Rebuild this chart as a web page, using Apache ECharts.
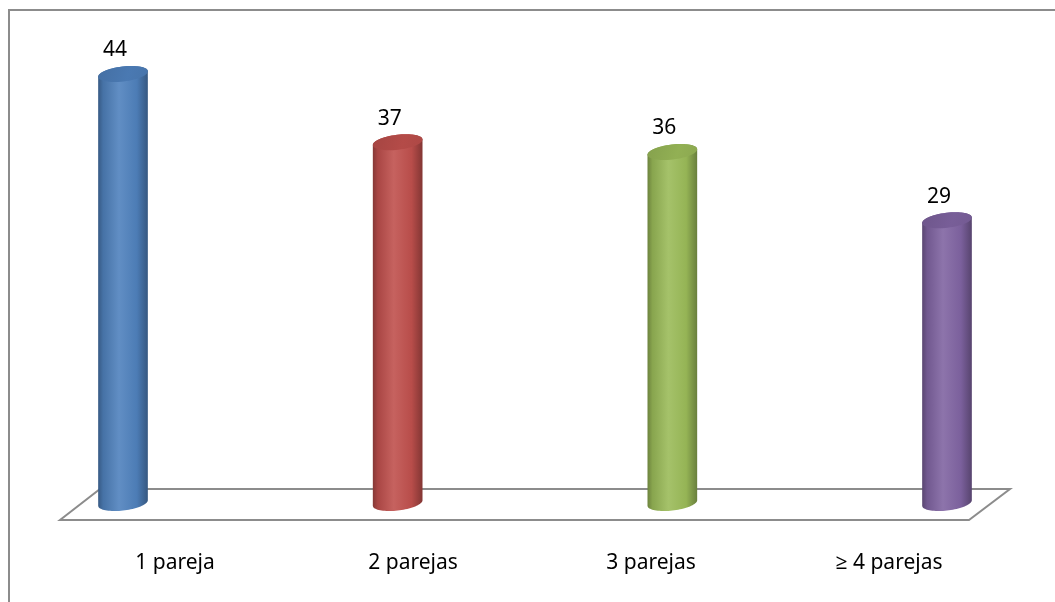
<!DOCTYPE html>
<html>
<head>
<meta charset="utf-8">
<script src="https://cdn.jsdelivr.net/npm/echarts@6/dist/echarts.min.js"></script>
<style>
  html, body { margin: 0; padding: 0; background: #fff; }
  #chart { width: 1055px; height: 602px; }
</style>
</head>
<body>
<div id="chart"></div>
<script>
// Number of partners (parejas) and the count for each group
const categories = ['1 pareja', '2 parejas', '3 parejas', '≥ 4 parejas'];
const values = [44, 37, 36, 29];
const barColors = ['#4F81BD', '#C0504D', '#9BBB59', '#8064A2'];

const FONT = '"Noto Sans", "Open Sans", sans-serif';

function shade(hex, f) {
  const n = parseInt(hex.slice(1), 16);
  let r = (n >> 16) & 255, g = (n >> 8) & 255, b = n & 255;
  const m = c => f < 0 ? Math.round(c * (1 + f)) : Math.round(c + (255 - c) * f);
  return 'rgb(' + m(r) + ',' + m(g) + ',' + m(b) + ')';
}

function bodyGradient(c) {
  return new echarts.graphic.LinearGradient(0, 0, 1, 0, [
    { offset: 0, color: shade(c, -0.3) },
    { offset: 0.1, color: shade(c, -0.12) },
    { offset: 0.42, color: shade(c, 0.1) },
    { offset: 0.78, color: shade(c, -0.04) },
    { offset: 1, color: shade(c, -0.32) }
  ]);
}

// cylinder cross-section: half-width, half-depth and tilt of the end ellipses
const RX = 25, RY = 7.5, TILT = -0.12;

function ellipsePt(cx, cy, t) {
  const c = Math.cos(TILT), s = Math.sin(TILT);
  return [
    cx + RX * Math.cos(t) * c - RY * Math.sin(t) * s,
    cy + RX * Math.cos(t) * s + RY * Math.sin(t) * c
  ];
}

function arc(cx, cy, t1, t2, n) {
  const pts = [];
  for (let k = 0; k <= n; k++) pts.push(ellipsePt(cx, cy, t1 + (t2 - t1) * k / n));
  return pts;
}

function renderCylinder(params, api) {
  const i = api.value(0);
  const v = api.value(1);
  const top = api.coord([i, v]);
  const base = api.coord([i, 0]);
  const cx = top[0];
  const c = barColors[i];
  // angle where the ellipse reaches its right-most point
  const t0 = Math.atan(-(RY * Math.sin(TILT)) / (RX * Math.cos(TILT)));
  const body = arc(cx, base[1], t0, t0 + Math.PI, 40)
    .concat(arc(cx, top[1], t0 + Math.PI, t0 + 2 * Math.PI, 40));
  const cap = arc(cx, top[1], 0, 2 * Math.PI, 60);
  return {
    type: 'group',
    children: [
      {
        type: 'polygon',
        shape: { points: body },
        style: { fill: bodyGradient(c) }
      },
      {
        type: 'polygon',
        shape: { points: cap },
        style: {
          fill: new echarts.graphic.LinearGradient(0, 0, 1, 1, [
            { offset: 0, color: shade(c, -0.14) },
            { offset: 0.6, color: shade(c, -0.06) },
            { offset: 1, color: shade(c, -0.1) }
          ])
        }
      },
      {
        type: 'text',
        x: cx - 8, y: top[1] - 23.5,
        style: {
          text: String(v), fill: '#000', font: '21px ' + FONT,
          align: 'center', verticalAlign: 'middle'
        }
      }
    ]
  };
}

function renderFloor(params, api) {
  const first = api.coord([0, 0]);
  const last = api.coord([categories.length - 1, 0]);
  const yBack = first[1] - 14, yFront = first[1] + 17;
  return {
    type: 'polygon',
    shape: {
      points: [
        [first[0] - 63, yFront],
        [first[0] - 23, yBack],
        [last[0] + 63, yBack],
        [last[0] + 22, yFront]
      ]
    },
    style: { fill: '#fff', stroke: '#8c8c8c', lineWidth: 2 }
  };
}

const chart = echarts.init(document.getElementById('chart'), null, { renderer: 'canvas' });
chart.setOption({
  animation: false,
  backgroundColor: '#fff',
  graphic: [{
    type: 'rect',
    shape: { x: 9, y: 10, width: 1100, height: 700 },
    style: { fill: 'none', stroke: '#8c8c8c', lineWidth: 2 },
    silent: true, z: -10
  }],
  grid: [
    { left: 123, right: 108, top: 15.5, bottom: 99 },
    { left: 175, right: 166, top: 540, bottom: 57 }
  ],
  xAxis: [
    { gridIndex: 0, type: 'category', data: categories, boundaryGap: false, show: false },
    {
      gridIndex: 1, type: 'category', data: categories, boundaryGap: false,
      axisLine: { show: false }, axisTick: { show: false }, splitLine: { show: false },
      axisLabel: { color: '#000', fontSize: 21, fontFamily: FONT, margin: 8 }
    }
  ],
  yAxis: [
    { gridIndex: 0, type: 'value', min: 0, max: 50, show: false },
    { gridIndex: 1, type: 'value', show: false }
  ],
  series: [
    {
      type: 'custom', name: 'floor', xAxisIndex: 0, yAxisIndex: 0,
      renderItem: renderFloor, data: [[0, 0]], z: 1, silent: true
    },
    {
      type: 'custom', name: 'parejas', xAxisIndex: 0, yAxisIndex: 0,
      renderItem: renderCylinder,
      data: values.map((v, i) => [i, v]), z: 2
    }
  ]
});
</script>
</body>
</html>
